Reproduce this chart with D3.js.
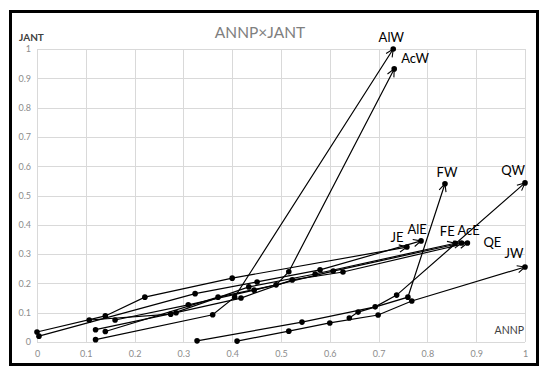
<!DOCTYPE html>
<html>
<head>
<meta charset="utf-8">
<script src="https://cdn.jsdelivr.net/npm/d3@7"></script>
<style>
  body { margin: 0; background: #fff; }
  svg { display: block; font-family: Lato, "Open Sans", sans-serif; }
</style>
</head>
<body>
<div id="chart"></div>
<script>
// series names, and ANNP (x) / JANT (y) values for each one
var seriesNames = ["JE", "AlE", "FE", "AcE", "QE", "AcW", "AlW", "QW", "FW", "JW"];

var annpValues = [
  [0.000, 0.140, 0.221, 0.400, 0.758],
  [0.004, 0.324, 0.451, 0.580, 0.787],
  [0.107, 0.274, 0.434, 0.570, 0.857],
  [0.160, 0.310, 0.445, 0.607, 0.870],
  [0.120, 0.285, 0.418, 0.523, 0.627, 0.882],
  [0.140, 0.371, 0.490, 0.516, 0.732],
  [0.120, 0.360, 0.405, 0.730],
  [0.328, 0.543, 0.693, 0.737, 1.000],
  [0.640, 0.658, 0.760, 0.836],
  [0.410, 0.516, 0.600, 0.699, 0.768, 1.000]
];

var jantValues = [
  [0.034, 0.089, 0.153, 0.218, 0.324],
  [0.020, 0.165, 0.205, 0.246, 0.345],
  [0.075, 0.095, 0.188, 0.232, 0.337],
  [0.075, 0.127, 0.177, 0.242, 0.338],
  [0.042, 0.100, 0.150, 0.212, 0.239, 0.338],
  [0.036, 0.153, 0.195, 0.240, 0.932],
  [0.008, 0.093, 0.153, 1.000],
  [0.004, 0.068, 0.120, 0.160, 0.543],
  [0.082, 0.102, 0.153, 0.540],
  [0.003, 0.037, 0.065, 0.092, 0.140, 0.256]
];

var tickValues = [0, 0.1, 0.2, 0.3, 0.4, 0.5, 0.6, 0.7, 0.8, 0.9, 1];

// where each end label sits relative to the last point (layout only)
var labelDx = [-10, -4, -8, 7, 16, 7, -2, -12, 2, -11];
var labelDy = [-5, -7, -7, -8, 4, -6, -7, -8, -7, -9];
var labelAnchor = ["middle", "middle", "middle", "middle", "start", "start", "middle", "middle", "middle", "middle"];

var W = 550, H = 376;
var x = d3.scaleLinear().domain([0, 1]).range([37, 525]);
var y = d3.scaleLinear().domain([0, 1]).range([342, 49]);

var svg = d3.select("#chart").append("svg")
  .attr("width", W)
  .attr("height", H);

svg.append("defs").append("marker")
  .attr("id", "arrow")
  .attr("viewBox", "0 0 10 10")
  .attr("refX", 9.5)
  .attr("refY", 5)
  .attr("markerWidth", 9)
  .attr("markerHeight", 9)
  .attr("markerUnits", "userSpaceOnUse")
  .attr("orient", "auto")
  .append("path")
  .attr("d", "M1,1 L9.5,5 L1,9")
  .attr("fill", "none")
  .attr("stroke", "#000")
  .attr("stroke-width", 1.2);

// frame
svg.append("rect")
  .attr("x", 10.5).attr("y", 11.5)
  .attr("width", 527).attr("height", 353)
  .attr("fill", "#fff")
  .attr("stroke", "#000")
  .attr("stroke-width", 3);

// grid
var grid = svg.append("g");
grid.selectAll("line.v").data(tickValues).enter().append("line")
  .attr("x1", function(d){ return Math.round(x(d)) + 0.5; })
  .attr("x2", function(d){ return Math.round(x(d)) + 0.5; })
  .attr("y1", y(1)).attr("y2", y(0))
  .attr("stroke", "#d9d9d9").attr("stroke-width", 1);
grid.selectAll("line.h").data(tickValues).enter().append("line")
  .attr("y1", function(d){ return Math.round(y(d)) + 0.5; })
  .attr("y2", function(d){ return Math.round(y(d)) + 0.5; })
  .attr("x1", x(0)).attr("x2", x(1))
  .attr("stroke", "#d9d9d9").attr("stroke-width", 1);

// axes (labels only, Excel style)
var xAxis = d3.axisBottom(x).tickValues(tickValues).tickSize(0).tickPadding(9)
  .tickFormat(function(d){ return d3.format("")(+d.toFixed(1)); });
var yAxis = d3.axisLeft(y).tickValues(tickValues).tickSize(0).tickPadding(6)
  .tickFormat(function(d){ return d3.format("")(+d.toFixed(1)); });

var gx = svg.append("g").attr("transform", "translate(0," + y(0) + ")").call(xAxis);
var gy = svg.append("g").attr("transform", "translate(" + x(0) + ",0)").call(yAxis);
[gx, gy].forEach(function(g){
  g.select(".domain").remove();
  g.selectAll("text").attr("fill", "#8c8c8c").style("font-size", "9px").style("font-family", "Lato, sans-serif");
});

// title & axis titles
svg.append("text").attr("x", 260).attr("y", 38)
  .attr("text-anchor", "middle").attr("fill", "#7f7f7f")
  .style("font-size", "15.5px").text("ANNP×JANT");
svg.append("text").attr("x", 19).attr("y", 41)
  .attr("fill", "#404040").style("font-size", "10px").style("font-weight", "bold")
  .text("JANT");
svg.append("text").attr("x", 524).attr("y", 334)
  .attr("text-anchor", "end").attr("fill", "#404040").style("font-size", "10.5px")
  .text("ANNP");

// series
var line = d3.line()
  .x(function(d){ return x(d[0]); })
  .y(function(d){ return y(d[1]); });

var series = seriesNames.map(function(name, i) {
  return { name: name, i: i, pts: d3.zip(annpValues[i], jantValues[i]) };
});

var sg = svg.append("g");
sg.selectAll("path.s").data(series).enter().append("path")
  .attr("d", function(s){ return line(s.pts); })
  .attr("fill", "none")
  .attr("stroke", "#000")
  .attr("stroke-width", 1.2)
  .attr("marker-end", "url(#arrow)");

series.forEach(function(s) {
  sg.selectAll(null).data(s.pts).enter().append("circle")
    .attr("cx", function(d){ return x(d[0]); })
    .attr("cy", function(d){ return y(d[1]); })
    .attr("r", 2.8)
    .attr("fill", "#000");
});

sg.selectAll("text.lab").data(series).enter().append("text")
  .attr("x", function(s){ var p = s.pts[s.pts.length - 1]; return x(p[0]) + labelDx[s.i]; })
  .attr("y", function(s){ var p = s.pts[s.pts.length - 1]; return y(p[1]) + labelDy[s.i]; })
  .attr("text-anchor", function(s){ return labelAnchor[s.i]; })
  .attr("fill", "#000")
  .style("font-size", "13px")
  .text(function(s){ return s.name; });
</script>
</body>
</html>
